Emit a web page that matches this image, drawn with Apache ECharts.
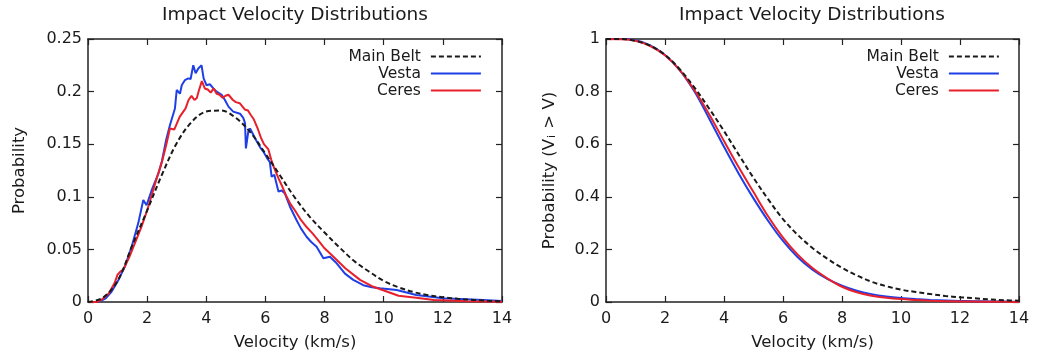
<!DOCTYPE html>
<html><head><meta charset="utf-8">
<script src="https://cdn.jsdelivr.net/npm/echarts@6/dist/echarts.min.js"></script>
<style>html,body{margin:0;padding:0;background:#fff}#c{width:1040px;height:363px}</style>
</head><body><div id="c"></div>
<script>
const seriesNames = ['Main Belt', 'Vesta', 'Ceres'];
const titleText = 'Impact Velocity Distributions';
const xTicks = [0, 2, 4, 6, 8, 10, 12, 14];
const pdfTicks = [0, 0.05, 0.1, 0.15, 0.2, 0.25];
const cdfTicks = [0, 0.2, 0.4, 0.6, 0.8, 1];

// Left panel: probability density
const mbPdfV = [0,0.5,1,1.5,2,2.5,3,3.5,4,4.5,5,5.5,6,6.5,7,7.5,8,8.5,9,9.5,10,10.5,11,11.5,12,12.5,13,13.5,14];
const mbPdfP = [0,0.004,0.020,0.054,0.087,0.121,0.151,0.171,0.181,0.182,0.175,0.161,0.141,0.120,0.099,0.081,0.066,0.052,0.039,0.029,0.020,0.014,0.0095,0.0065,0.0045,0.003,0.002,0.0012,0.0006];

const vestaPdfV = [0,0.3,0.5,0.6,0.8,1.03,1.25,1.48,1.7,1.87,1.98,2.15,2.38,2.5,2.65,2.77,2.94,3.0,3.11,3.17,3.28,3.39,3.47,3.56,3.64,3.73,3.84,3.91,4.01,4.12,4.24,4.35,4.52,4.63,4.75,4.91,5.14,5.25,5.31,5.34,5.42,5.48,5.59,5.7,5.82,5.93,6.05,6.15,6.21,6.3,6.44,6.55,6.66,6.83,7.05,7.2,7.39,7.55,7.73,7.96,8.18,8.41,8.69,8.97,9.31,9.6,9.87,10.44,11.1,12.0,13.36,14];
const vestaPdfP = [0,0,0.002,0.0035,0.010,0.021,0.034,0.053,0.075,0.097,0.092,0.106,0.122,0.134,0.155,0.168,0.184,0.2015,0.198,0.206,0.211,0.2126,0.212,0.225,0.2174,0.222,0.225,0.2126,0.206,0.207,0.203,0.200,0.197,0.192,0.1857,0.181,0.179,0.175,0.170,0.146,0.162,0.165,0.159,0.153,0.147,0.143,0.137,0.133,0.119,0.121,0.105,0.106,0.103,0.0906,0.078,0.070,0.062,0.057,0.0526,0.0415,0.043,0.0368,0.027,0.021,0.016,0.014,0.013,0.0114,0.0067,0.0035,0.002,0.001];

const ceresPdfV = [0,0.3,0.5,0.7,0.9,1.0,1.1,1.2,1.4,1.6,1.8,2.0,2.2,2.35,2.5,2.65,2.77,2.92,3.1,3.2,3.3,3.4,3.5,3.6,3.68,3.75,3.85,3.95,4.05,4.15,4.25,4.35,4.45,4.55,4.65,4.75,4.9,5.0,5.13,5.3,5.41,5.5,5.6,5.75,5.85,5.95,6.1,6.2,6.3,6.45,6.55,6.7,6.85,7.0,7.2,7.4,7.6,7.8,8.0,8.3,8.7,9.2,9.6,10.1,10.5,11.1,11.7,12.8,14];
const ceresPdfP = [0,0,0.003,0.008,0.018,0.026,0.029,0.031,0.043,0.057,0.071,0.087,0.106,0.120,0.133,0.150,0.165,0.164,0.176,0.180,0.184,0.192,0.196,0.192,0.194,0.201,0.210,0.203,0.202,0.199,0.203,0.198,0.197,0.194,0.196,0.197,0.192,0.190,0.189,0.183,0.182,0.178,0.174,0.164,0.156,0.150,0.145,0.135,0.127,0.117,0.111,0.101,0.093,0.087,0.078,0.071,0.065,0.058,0.051,0.043,0.032,0.021,0.015,0.010,0.006,0.004,0.002,0.0008,0.0002];

// Right panel: cumulative P(Vi > V)
const cdfV = [0,0.5,1,1.5,2,2.5,3,3.5,4,4.5,5,5.5,6,6.5,7,7.5,8,8.5,9,9.5,10,10.5,11,11.5,12,12.5,13,13.5,14];
const mbCdf = [1,1,0.993,0.975,0.940,0.885,0.815,0.735,0.650,0.560,0.472,0.390,0.315,0.255,0.205,0.165,0.130,0.101,0.077,0.060,0.047,0.038,0.030,0.023,0.018,0.014,0.010,0.007,0.005];
const vestaCdf = [1,1,0.995,0.976,0.939,0.882,0.800,0.697,0.590,0.488,0.394,0.308,0.232,0.170,0.123,0.088,0.062,0.043,0.030,0.021,0.015,0.011,0.008,0.006,0.004,0.003,0.002,0.0015,0.001];
const ceresCdf = [1,0.999,0.993,0.973,0.938,0.882,0.805,0.713,0.612,0.512,0.418,0.325,0.245,0.180,0.129,0.090,0.058,0.037,0.024,0.016,0.011,0.008,0.005,0.003,0.002,0.0015,0.001,0.0005,0.0002];

const zip = (a, b) => a.map((v, i) => [v, b[i]]);
const FONT = 'DejaVu Sans';
const TXT = '#1a1a1a';
const AX = '#222';
const colors = ['#1a1a1a', '#1f3fe6', '#e8202c'];

function xAxis(grid, pos, main) {
  return {
    type: 'value', gridIndex: grid, position: pos,
    min: xTicks[0], max: xTicks[xTicks.length - 1], interval: xTicks[1] - xTicks[0],
    axisLine: { show: true, onZero: false, lineStyle: { color: AX, width: 1.5 } },
    axisTick: { show: true, inside: true, length: 6, lineStyle: { color: AX, width: 1.2 } },
    axisLabel: { show: main, margin: 9, color: TXT, fontSize: 16, fontFamily: FONT },
    splitLine: { show: false },
    name: main ? 'Velocity (km/s)' : '', nameLocation: 'middle', nameGap: 32,
    nameTextStyle: { color: TXT, fontSize: 16.5, fontFamily: FONT }
  };
}
function yAxis(grid, pos, main, ticks, name, gap, rich) {
  return {
    type: 'value', gridIndex: grid, position: pos,
    min: ticks[0], max: ticks[ticks.length - 1], interval: ticks[1] - ticks[0],
    axisLine: { show: true, onZero: false, lineStyle: { color: AX, width: 1.5 } },
    axisTick: { show: true, inside: true, length: 6, lineStyle: { color: AX, width: 1.2 } },
    axisLabel: { show: main, margin: 6, color: TXT, fontSize: 16, fontFamily: FONT,
      formatter: v => String(+v.toFixed(2)) },
    splitLine: { show: false },
    name: main ? name : '', nameLocation: 'middle', nameGap: gap, nameRotate: 90,
    nameTextStyle: Object.assign({ color: TXT, fontSize: 16.5, fontFamily: FONT }, rich ? { rich } : {})
  };
}
function mkSeries(name, idx, data, ax, smooth) {
  return {
    name, type: 'line', xAxisIndex: ax, yAxisIndex: ax, data,
    symbol: 'none', smooth: smooth ? 0.35 : false,
    lineStyle: { color: colors[idx], width: 2, type: idx === 0 ? [5, 3] : 'solid' },
    itemStyle: { color: colors[idx] }, z: idx === 0 ? 3 : 2, animation: false
  };
}
function legend(right) {
  return {
    orient: 'vertical', right, top: 48, align: 'right', itemWidth: 50, itemHeight: 14, itemGap: 0,
    padding: 0,
    itemStyle: { opacity: 0 },
    lineStyle: { width: 2.2 },
    textStyle: { color: TXT, fontSize: 15.5, fontFamily: FONT, lineHeight: 17, padding: [0, 5, 0, 0] },
    data: seriesNames, selectedMode: false
  };
}

const richName = {
  a: { fontSize: 16.5, fontFamily: FONT, color: TXT },
  s: { fontSize: 11, fontFamily: FONT, color: TXT, verticalAlign: 'bottom', padding: [0, 1, 0, 1] }
};

const chart = echarts.init(document.getElementById('c'), null, { renderer: 'canvas' });
chart.setOption({
  backgroundColor: '#fff',
  animation: false,
  title: [
    { text: titleText, left: 295, top: 6, textAlign: 'center', padding: 0,
      textStyle: { color: TXT, fontSize: 18.5, fontWeight: 'normal', fontFamily: FONT } },
    { text: titleText, left: 812, top: 6, textAlign: 'center', padding: 0,
      textStyle: { color: TXT, fontSize: 18.5, fontWeight: 'normal', fontFamily: FONT } }
  ],
  grid: [
    { left: 88, top: 39, width: 414, height: 263, containLabel: false },
    { left: 606, top: 39, width: 413, height: 263, containLabel: false }
  ],
  legend: [legend(558), legend(40)],
  xAxis: [xAxis(0, 'bottom', true), xAxis(0, 'top', false), xAxis(1, 'bottom', true), xAxis(1, 'top', false)],
  yAxis: [
    yAxis(0, 'left', true, pdfTicks, 'Probability', 60),
    yAxis(0, 'right', false, pdfTicks, '', 0),
    yAxis(1, 'left', true, cdfTicks, '{a|Probability (V}{s|i}{a| > V)}', 48, richName),
    yAxis(1, 'right', false, cdfTicks, '', 0)
  ],
  series: [
    mkSeries(seriesNames[0], 0, zip(mbPdfV, mbPdfP), 0, true),
    mkSeries(seriesNames[1], 1, zip(vestaPdfV, vestaPdfP), 0, false),
    mkSeries(seriesNames[2], 2, zip(ceresPdfV, ceresPdfP), 0, false),
    mkSeries(seriesNames[0], 0, zip(cdfV, mbCdf), 2, true),
    mkSeries(seriesNames[1], 1, zip(cdfV, vestaCdf), 2, true),
    mkSeries(seriesNames[2], 2, zip(cdfV, ceresCdf), 2, true)
  ]
});
</script></body></html>
